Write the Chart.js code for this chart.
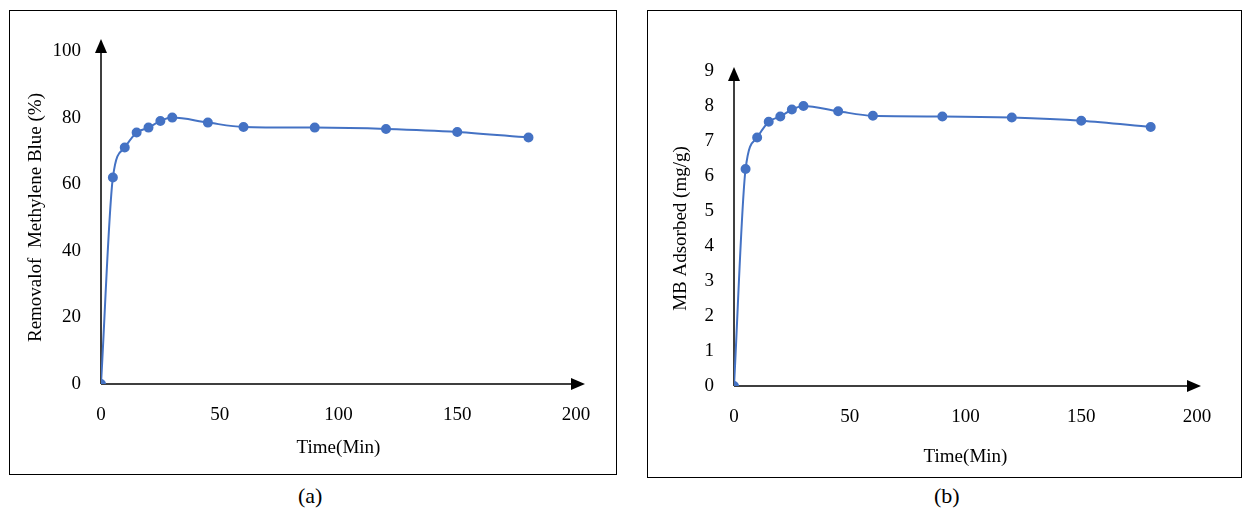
<!DOCTYPE html>
<html><head>
<script src="https://cdn.jsdelivr.net/npm/chart.js@4"></script>
<style>
body{margin:0;background:#fff;width:1248px;height:513px;position:relative;font-family:'Liberation Serif',serif}
.box{position:absolute;border:1px solid #000;box-sizing:border-box}
.lbl{position:absolute;font-size:22px}
</style></head><body>
<div class="box" style="left:9px;top:10px;width:608px;height:465px"><canvas id="c1"></canvas></div>
<div class="box" style="left:647px;top:10px;width:595px;height:468px"><canvas id="c2"></canvas></div>
<div class="lbl" style="left:298px;top:483px">(a)</div>
<div class="lbl" style="left:934px;top:483px">(b)</div>
<script>
const times = [0, 5, 10, 15, 20, 25, 30, 45, 60, 90, 120, 150, 180];
const removal = [0, 62, 71, 75.5, 77, 79, 80, 78.5, 77.2, 77, 76.6, 75.7, 74];
const adsorbed = [0, 6.2, 7.1, 7.55, 7.7, 7.9, 8.0, 7.85, 7.72, 7.7, 7.67, 7.58, 7.4];

const font = {family: "'Liberation Serif', serif", size: 19};

// axis lines with arrow heads
const arrows = {
    id: 'arrows',
    beforeDatasetsDraw(chart, args, opts) {
        const {ctx, chartArea: a} = chart;
        ctx.save();
        ctx.strokeStyle = '#000'; ctx.fillStyle = '#000'; ctx.lineWidth = 1.5;
        ctx.beginPath();
        ctx.moveTo(a.left, a.bottom); ctx.lineTo(a.right + opts.xExt, a.bottom);
        ctx.moveTo(a.left, a.bottom); ctx.lineTo(a.left, a.top - opts.yExt);
        ctx.stroke();
        const xr = a.right + opts.xExt, yt = a.top - opts.yExt;
        ctx.beginPath();
        ctx.moveTo(xr + 4, a.bottom); ctx.lineTo(xr - 10, a.bottom - 6); ctx.lineTo(xr - 10, a.bottom + 6); ctx.fill();
        ctx.beginPath();
        ctx.moveTo(a.left, yt - 4); ctx.lineTo(a.left - 6, yt + 10); ctx.lineTo(a.left + 6, yt + 10); ctx.fill();
        ctx.restore();
    }
};

function makeChart(id, data, yMax, yStep, yTitle, g) {
    new Chart(document.getElementById(id), {
        type: 'line',
        data: {
            datasets: [{
                data: times.map((t, i) => ({x: t, y: data[i]})),
                borderColor: '#4472C4',
                backgroundColor: '#4472C4',
                borderWidth: 2,
                pointRadius: 4,
                cubicInterpolationMode: 'monotone'
            }]
        },
        options: {
            responsive: true,
            maintainAspectRatio: false,
            animation: false,
            layout: {padding: {top: g.top, right: g.right, left: g.left, bottom: g.bottom}},
            plugins: {legend: {display: false}, tooltip: {enabled: false}, arrows: {xExt: g.xExt, yExt: g.yExt}},
            scales: {
                x: {
                    type: 'linear', min: 0, max: 200,
                    grid: {display: false}, border: {display: false},
                    ticks: {stepSize: 50, color: '#000', font, padding: 12},
                    title: {display: true, text: 'Time(Min)', color: '#000', font},
                    afterFit(s) { s.height = g.xh; }
                },
                y: {
                    min: 0, max: yMax,
                    grid: {display: false}, border: {display: false},
                    ticks: {stepSize: yStep, color: '#000', font, padding: 12},
                    title: {display: true, text: yTitle, color: '#000', font},
                    afterFit(s) { s.width = g.yw; }
                }
            }
        },
        plugins: [arrows]
    });
}

makeChart('c1', removal, 100, 20, 'Removalof  Methylene Blue (%)',
    {top: 40, right: 40, left: 11, bottom: 11, xh: 79, yw: 80, xExt: 5, yExt: 8});
makeChart('c2', adsorbed, 9, 1, 'MB Adsorbed (mg/g)',
    {top: 60, right: 44, left: 18, bottom: 5, xh: 86, yw: 68, xExt: 0, yExt: 0});
</script>
</body></html>
